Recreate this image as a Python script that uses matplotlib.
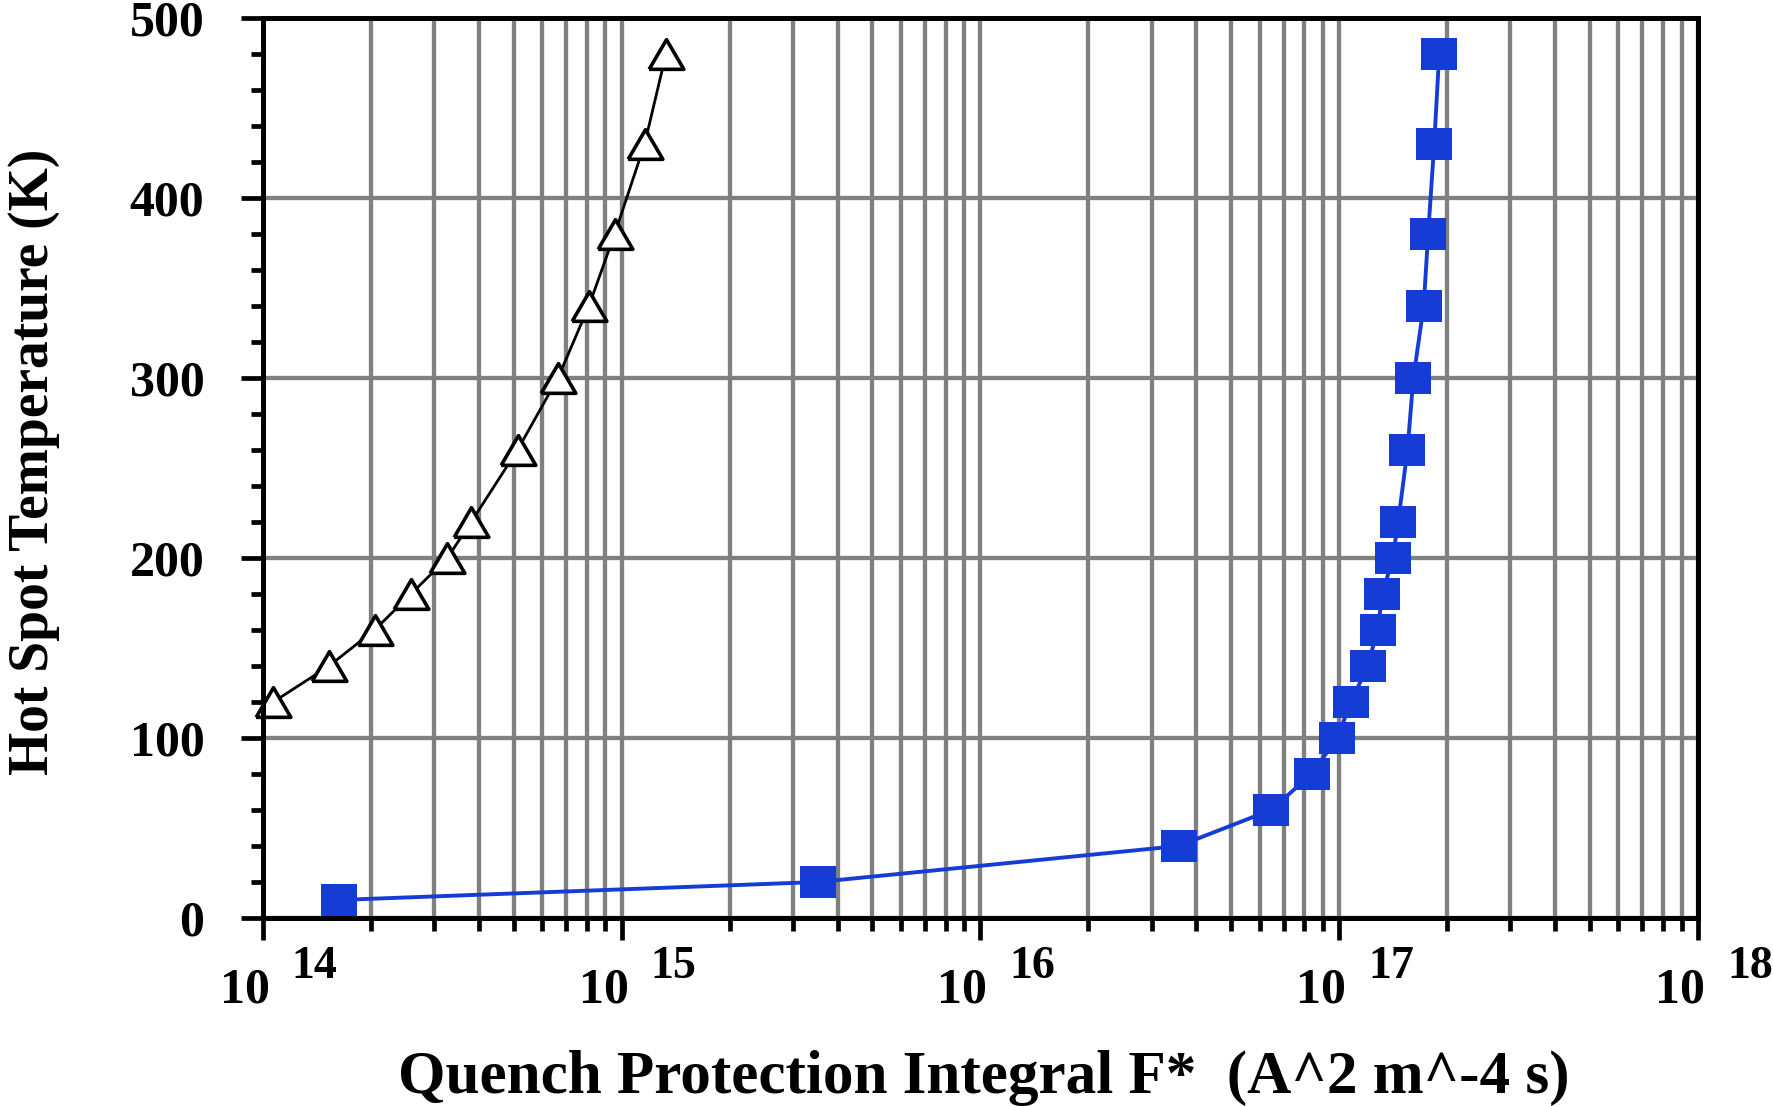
import matplotlib
matplotlib.use("Agg")
import matplotlib.pyplot as plt
from matplotlib.ticker import MultipleLocator, LogLocator, NullFormatter

plt.rcParams['font.family'] = ['Liberation Serif', 'DejaVu Serif']

# hot spot temperature (K) vs quench integral F* (A^2 m^-4 s)
T_open = [120, 140, 160, 180, 200, 220, 260, 300, 340, 380, 430, 480]
F_open = [1.07e14, 1.53e14, 2.05e14, 2.59e14, 3.27e14, 3.81e14,
          5.13e14, 6.65e14, 8.11e14, 9.57e14, 1.16e15, 1.33e15]

T_blue = [10, 20, 40, 60, 80, 100, 120, 140, 160, 180, 200, 220,
          260, 300, 340, 380, 430, 480]
F_blue = [1.63e14, 3.53e15, 3.57e16, 6.46e16, 8.38e16, 9.86e16,
          1.08e17, 1.20e17, 1.28e17, 1.32e17, 1.41e17, 1.46e17,
          1.55e17, 1.61e17, 1.72e17, 1.77e17, 1.84e17, 1.90e17]

decades = [14, 15, 16, 17, 18]
yticks = [0, 100, 200, 300, 400, 500]

W, H = 1773, 1106
fig = plt.figure(figsize=(W / 100, H / 100), dpi=100)
ax = fig.add_axes([262.7 / W, 1 - 918 / H, (1698 - 262.7) / W, (918 - 18) / H])

# slightly wide triangle and rectangle, closed paths
tri = [(-1.17, -1.0), (1.17, -1.0), (0.0, 1.0), (-1.17, -1.0)]
rect = [(-1.0, -0.91), (1.0, -0.91), (1.0, 0.91), (-1.0, 0.91), (-1.0, -0.91)]

ax.plot(F_open, T_open, color='black', lw=2.0, marker=tri, ms=25,
        mfc='white', mec='black', mew=2.6, clip_on=False, zorder=3)
ax.plot(F_blue, T_blue, color='#153cd4', lw=2.8, marker=rect, ms=25.5,
        mfc='#153cd4', mec='#153cd4', mew=0, zorder=3)

ax.set_xscale('log')
ax.set_xlim(1e14, 1e18)
ax.set_ylim(0, 500)
ax.set_yticks(yticks)
ax.yaxis.set_minor_locator(MultipleLocator(20))
ax.xaxis.set_major_locator(LogLocator(base=10, numticks=10))
ax.xaxis.set_minor_locator(LogLocator(base=10, subs=range(2, 10), numticks=50))
ax.xaxis.set_major_formatter(NullFormatter())
ax.xaxis.set_minor_formatter(NullFormatter())

ax.set_axisbelow(True)
ax.grid(which='major', color='#808080', lw=3.1)
ax.grid(which='minor', axis='x', color='#808080', lw=3.1)

for s in ax.spines.values():
    s.set_linewidth(3.6)
    s.set_zorder(4)

ax.tick_params(which='major', direction='out', length=16, width=3.4,
               labelsize=36, pad=26, top=False, right=False)
ax.tick_params(which='minor', direction='out', length=9, width=3.4,
               top=False, right=False)
for lab in ax.get_yticklabels():
    lab.set_fontweight('bold')

# old style "10  14" decade labels
for d in decades:
    ax.annotate('10', xy=(10.0 ** d, 0), xycoords=('data', 'axes fraction'),
                xytext=(5, -60.5), textcoords='offset points',
                ha='right', va='baseline', fontsize=36, fontweight='bold',
                annotation_clip=False)
    ax.annotate(str(d), xy=(10.0 ** d, 0), xycoords=('data', 'axes fraction'),
                xytext=(21, -43), textcoords='offset points',
                ha='left', va='baseline', fontsize=33, fontweight='bold',
                annotation_clip=False)

fig.text(983.5 / W, 1 - 1093 / H, 'Quench Protection Integral F*  (A^2 m^-4 s)',
         ha='center', va='baseline', fontsize=44, fontweight='bold')
fig.text(34 / W, 1 - 462 / H, 'Hot Spot Temperature (K)', rotation=90,
         ha='center', va='center', fontsize=40, fontweight='bold')

fig.savefig('out.png', dpi=100)
